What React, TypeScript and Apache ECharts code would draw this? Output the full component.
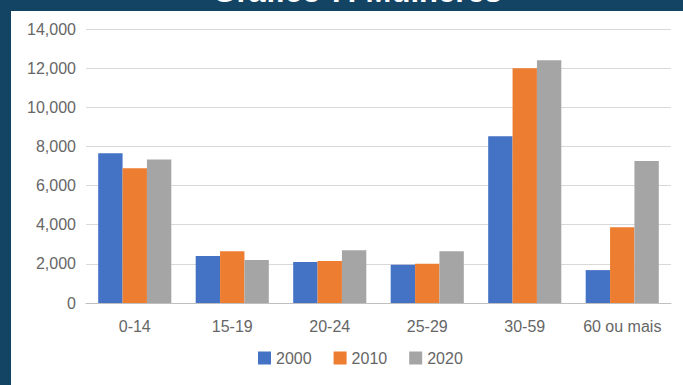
import React, { useEffect, useRef } from "react";
import * as echarts from "echarts";

const categories = ["0-14", "15-19", "20-24", "25-29", "30-59", "60 ou mais"];
const seriesNames = ["2000", "2010", "2020"];
const values2000 = [7650, 2400, 2100, 1950, 8520, 1680];
const values2010 = [6880, 2650, 2150, 2000, 12000, 3870];
const values2020 = [7330, 2200, 2700, 2650, 12400, 7250];
const colors = ["#4472C4", "#ED7D31", "#A5A5A5"];
const titleText = "Gráfico 7: Mulheres";

export default function App() {
  const ref = useRef<HTMLDivElement>(null);
  useEffect(() => {
    if (!ref.current) return;
    const chart = echarts.init(ref.current, undefined, { renderer: "svg" });
    const data = [values2000, values2010, values2020];
    chart.setOption({
      animation: false,
      backgroundColor: "#134463",
      textStyle: { fontFamily: "Liberation Sans" },
      graphic: [
        { type: "rect", z: -10, shape: { x: 11, y: 11, width: 672, height: 374 }, style: { fill: "#ffffff" } },
        {
          type: "text",
          x: 357,
          y: 7,
          style: {
            text: titleText,
            fill: "#ffffff",
            font: "bold 31px Liberation Sans",
            textAlign: "center",
            textVerticalAlign: "bottom",
          },
        },
      ],
      grid: { left: 86, right: 12, top: 29, bottom: 82, containLabel: false },
      legend: {
        bottom: 14,
        left: 253,
        data: seriesNames,
        icon: "rect",
        itemWidth: 13,
        itemHeight: 13,
        itemGap: 22,
        textStyle: { color: "#666666", fontSize: 16, fontFamily: "Liberation Sans" },
      },
      xAxis: {
        type: "category",
        data: categories,
        axisLine: { lineStyle: { color: "#bfbfbf", width: 1 } },
        axisTick: { show: false },
        axisLabel: { color: "#666666", fontSize: 16, margin: 15, interval: 0 },
      },
      yAxis: {
        type: "value",
        min: 0,
        max: 14000,
        interval: 2000,
        axisLine: { show: false },
        axisTick: { show: false },
        splitLine: { lineStyle: { color: "#d9d9d9", width: 1 } },
        axisLabel: {
          color: "#666666",
          fontSize: 16,
          margin: 10,
          formatter: (v: number) => v.toLocaleString("en-US"),
        },
      },
      series: seriesNames.map((name, i) => ({
        name,
        type: "bar",
        data: data[i],
        itemStyle: { color: colors[i] },
        barGap: "0%",
        barCategoryGap: "25%",
      })),
    });
    return () => chart.dispose();
  }, []);
  return (
    <div style={{ position: "fixed", left: 0, top: 0 }}>
      <div ref={ref} style={{ width: 683, height: 385 }} />
    </div>
  );
}
